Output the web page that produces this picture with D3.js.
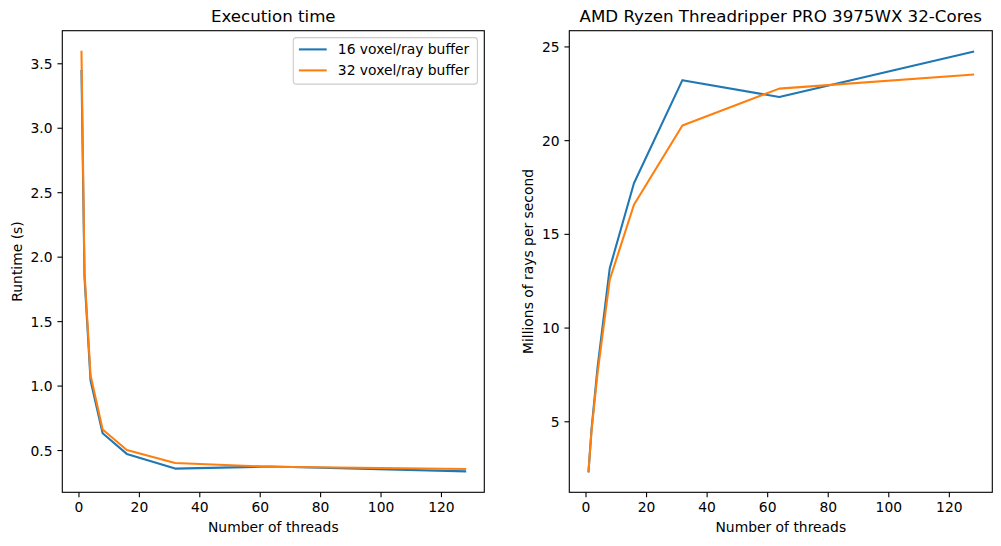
<!DOCTYPE html>
<html>
<head>
<meta charset="utf-8">
<script src="https://cdn.jsdelivr.net/npm/d3@7"></script>
<style>
  body { margin: 0; background: #fff; }
  svg text { font-family: "DejaVu Sans", sans-serif; fill: #000; }
</style>
</head>
<body>
<div class="chart"></div>
<script>
// data
const threads = [1, 2, 4, 8, 16, 32, 64, 128];
const seriesNames = ["16 voxel/ray buffer", "32 voxel/ray buffer"];
const runtime16 = [3.44, 1.84, 1.04, 0.63, 0.47, 0.356, 0.372, 0.335];
const runtime32 = [3.59, 1.88, 1.08, 0.66, 0.50, 0.40, 0.37, 0.353];
const rays16 = [2.33, 4.6, 7.9, 13.16, 17.7, 23.2, 22.3, 24.72];
const rays32 = [2.33, 4.5, 7.6, 12.55, 16.55, 20.78, 22.75, 23.5];
const threadTicks = [0, 20, 40, 60, 80, 100, 120];
const runtimeTicks = [0.5, 1.0, 1.5, 2.0, 2.5, 3.0, 3.5];
const raysTicks = [5, 10, 15, 20, 25];

const colors = ["#1f77b4", "#ff7f0e"];
const W = 1001, H = 546;
const fs = 13.89;

const svg = d3.select('.chart').append('svg')
    .attr('width', W)
    .attr('height', H);

// matplotlib-like 5% margins
function padded(vals) {
    const ext = d3.extent(vals);
    const p = (ext[1] - ext[0]) * 0.05;
    return [ext[0] - p, ext[1] + p];
}

function panel(opts) {
    const left = opts.left, right = opts.right, top = 30.7, bottom = 492.3;
    const g = svg.append('g');

    const x = d3.scaleLinear().domain(padded(threads)).range([left, right]);
    const y = d3.scaleLinear().domain(padded(opts.series.flat())).range([bottom, top]);

    const line = d3.line()
        .x((d, i) => x(threads[i]))
        .y(d => y(d));

    g.selectAll('path.series')
        .data(opts.series)
        .enter()
        .append('path')
        .attr('class', 'series')
        .attr('fill', 'none')
        .attr('stroke', (d, i) => colors[i])
        .attr('stroke-width', 2.08)
        .attr('stroke-linejoin', 'round')
        .attr('stroke-linecap', 'square')
        .attr('d', line);

    const xAxis = g.append('g')
        .attr('transform', `translate(0, ${bottom})`)
        .call(d3.axisBottom(x).tickValues(threadTicks).tickSizeInner(4.86).tickSizeOuter(0).tickPadding(4.86));
    const yAxis = g.append('g')
        .attr('transform', `translate(${left}, 0)`)
        .call(d3.axisLeft(y).tickValues(opts.yTicks).tickFormat(opts.yFormat).tickSizeInner(4.86).tickSizeOuter(0).tickPadding(4.86));

    [xAxis, yAxis].forEach(a => {
        a.select('.domain').remove();
        a.selectAll('line').attr('stroke', '#000').attr('stroke-width', 1.1);
        a.selectAll('text').attr('font-size', fs).attr('font-family', '"DejaVu Sans", sans-serif').attr('fill', '#000');
    });
    xAxis.selectAll('text').attr('dy', null).attr('y', 20.2);
    yAxis.selectAll('text').attr('dy', '0.36em');

    g.append('rect')
        .attr('x', left).attr('y', top)
        .attr('width', right - left).attr('height', bottom - top)
        .attr('fill', 'none')
        .attr('stroke', '#000')
        .attr('stroke-width', 1.1);

    g.append('text')
        .attr('x', (left + right) / 2)
        .attr('y', 22.4)
        .attr('text-anchor', 'middle')
        .attr('font-size', 16.67)
        .text(opts.title);

    g.append('text')
        .attr('x', (left + right) / 2)
        .attr('y', 532)
        .attr('text-anchor', 'middle')
        .attr('font-size', fs)
        .text("Number of threads");

    g.append('text')
        .attr('transform', `translate(${opts.ylabelX}, ${(top + bottom) / 2}) rotate(-90)`)
        .attr('text-anchor', 'middle')
        .attr('font-size', fs)
        .text(opts.ylabel);

    return g;
}

const g1 = panel({
    left: 62.3, right: 484.3,
    series: [runtime16, runtime32],
    yTicks: runtimeTicks, yFormat: d3.format('.1f'),
    title: "Execution time", ylabel: "Runtime (s)", ylabelX: 21.8
});

panel({
    left: 569.3, right: 992.3,
    series: [rays16, rays32],
    yTicks: raysTicks, yFormat: d3.format('d'),
    title: "AMD Ryzen Threadripper PRO 3975WX 32-Cores", ylabel: "Millions of rays per second", ylabelX: 532.7
});

// legend, upper right of the first panel
const legend = g1.append('g').attr('transform', 'translate(293.3, 37.6)');
legend.append('rect')
    .attr('width', 184.1).attr('height', 46.5)
    .attr('rx', 2.8).attr('ry', 2.8)
    .attr('fill', 'rgba(255,255,255,0.8)')
    .attr('stroke', '#cccccc')
    .attr('stroke-width', 1.1);

const item = legend.selectAll('.legend')
    .data(seriesNames)
    .enter()
    .append('g')
    .attr('class', 'legend')
    .attr('transform', (d, i) => `translate(0, ${11.8 + i * 21})`);

item.append('line')
    .attr('x1', 5.6).attr('x2', 33.4)
    .attr('stroke', (d, i) => colors[i])
    .attr('stroke-width', 2.08);

item.append('text')
    .attr('x', 44.5)
    .attr('dy', '0.36em')
    .attr('font-size', fs)
    .text(d => d);
</script>
</body>
</html>
